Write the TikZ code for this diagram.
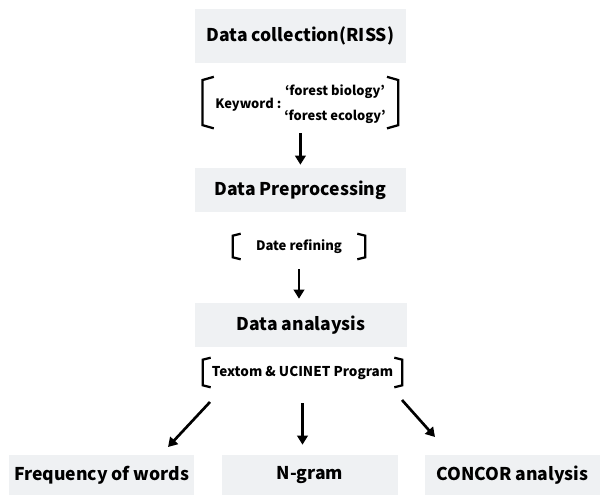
\documentclass[tikz,border=0pt]{standalone}
\usepackage{fontspec}
\setmainfont{Noto Sans CJK KR}
\usepackage{tikz}
\usetikzlibrary{arrows.meta}
\pgfdeclarelayer{edgelayer}
\pgfdeclarelayer{nodelayer}
\pgfsetlayers{edgelayer,nodelayer,main}
\tikzstyle{none}=[inner sep=0pt]
\tikzstyle{step_box}=[fill={rgb,255: red,239; green,241; blue,243}, draw=none, shape=rectangle, font=\bfseries\fontsize{12.5}{14}\selectfont]
\tikzstyle{bracket_box}=[shape=rectangle, inner sep=0pt, font=\bfseries\fontsize{9.3}{11}\selectfont]
\tikzstyle{myText}=[inner sep=0pt, font=\bfseries\fontsize{9.2}{11}\selectfont]
\tikzstyle{bracket_line}=[-, draw=black, line width=1.6pt]
\tikzstyle{main_arrow}=[-{Triangle[length=6.5pt,width=7.5pt]}, draw=black, line width=1.9pt]

\begin{document}
\begin{tikzpicture}
    \useasboundingbox (0, 0) rectangle (15, 12.375);
    \begin{pgfonlayer}{nodelayer}
        % data collection
        \node [style={step_box}, minimum width=5.275cm, minimum height=1.35cm] (0) at (7.51, 11.475) {Data collection(RISS)};
        \node [style={bracket_box}, minimum width=4.875cm, minimum height=1.275cm] (1) at (7.51, 9.81) {};
        \node [style=myText] (2) at (6.21, 9.75) {Keyword :};
        \node [style=myText] (3) at (8.375, 10.075) {‘forest biology’};
        \node [style=myText] (13) at (8.375, 9.45) {‘forest ecology’};

        % preprocessing
        \node [style={step_box}, minimum width=5.275cm, minimum height=1.1cm] (4) at (7.51, 7.625) {Data Preprocessing};
        \node [style={bracket_box}, minimum width=3.3cm, minimum height=0.625cm] (5) at (7.475, 6.2125) {Date refining};

        % analysis
        \node [style={step_box}, minimum width=5.3cm, minimum height=1.1cm] (6) at (7.525, 4.25) {Data analaysis};
        \node [style={bracket_box}, minimum width=4.975cm, minimum height=0.725cm, font=\bfseries\fontsize{9.6}{12}\selectfont] (7) at (7.5625, 3.0625) {Textom \& UCINET Program};

        % results at the bottom
        \node [style={step_box}, minimum width=4.425cm, minimum height=1.0cm] (8) at (2.54, 0.5) {Frequency of words};
        \node [style={step_box}, minimum width=4.4cm, minimum height=1.0cm] (9) at (7.75, 0.5) {N-gram};
        \node [style={step_box}, minimum width=4.375cm, minimum height=1.0cm] (10) at (12.81, 0.5) {CONCOR analysis};

        % empty points for the slanted arrows
        \coordinate (11) at (5.25, 2.325);
        \coordinate (12) at (4.2, 1.2);
        \coordinate (14) at (10.05, 2.375);
        \coordinate (15) at (10.875, 1.45);
    \end{pgfonlayer}
    \begin{pgfonlayer}{edgelayer}
        % brackets
        \draw [style={bracket_line}] ([xshift=0.28cm]1.north west) -- ([yshift=-0.08cm]1.north west) -- ([yshift=0.08cm]1.south west) -- ([xshift=0.28cm]1.south west);
        \draw [style={bracket_line}] ([xshift=-0.28cm]1.north east) -- ([yshift=-0.08cm]1.north east) -- ([yshift=0.08cm]1.south east) -- ([xshift=-0.28cm]1.south east);
        \draw [style={bracket_line}] ([xshift=0.2cm]5.north west) -- ([yshift=-0.05cm]5.north west) -- ([yshift=0.05cm]5.south west) -- ([xshift=0.2cm]5.south west);
        \draw [style={bracket_line}] ([xshift=-0.2cm]5.north east) -- ([yshift=-0.05cm]5.north east) -- ([yshift=0.05cm]5.south east) -- ([xshift=-0.2cm]5.south east);
        \draw [style={bracket_line}] ([xshift=0.2cm]7.north west) -- ([yshift=-0.05cm]7.north west) -- ([yshift=0.05cm]7.south west) -- ([xshift=0.2cm]7.south west);
        \draw [style={bracket_line}] ([xshift=-0.2cm]7.north east) -- ([yshift=-0.05cm]7.north east) -- ([yshift=0.05cm]7.south east) -- ([xshift=-0.2cm]7.south east);

        % arrows
        \draw [style={main_arrow}, shorten <=0.125cm, shorten >=0.075cm] (1.south) -- (1.south |- 4.north);
        \draw [style={main_arrow}, shorten <=0.25cm, shorten >=0.1cm] (5.south) -- (5.south |- 6.north);
        \draw [style={main_arrow}] (11) -- (12);
        \draw [style={main_arrow}, shorten <=0.4cm, shorten >=0.25cm] (7.south) -- (7.south |- 9.north);
        \draw [style={main_arrow}] (14) -- (15);
    \end{pgfonlayer}
\end{tikzpicture}
\end{document}
